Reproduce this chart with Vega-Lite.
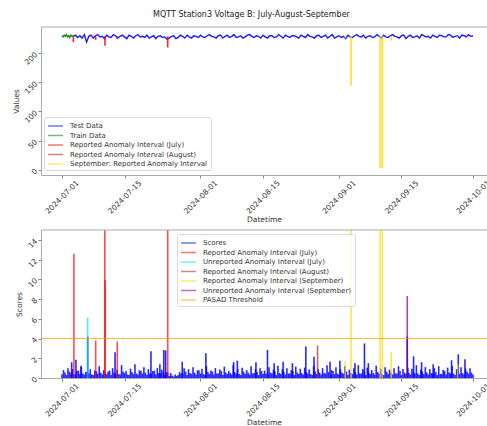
{
"$schema": "https://vega.github.io/schema/vega-lite/v6.json",
"padding": {"left": 12, "top": 10, "right": 0, "bottom": 2},
"title": {"text": "MQTT Station3 Voltage B: July-August-September", "anchor": "middle", "fontSize": 8, "font": "DejaVu Sans", "fontWeight": "normal", "color": "#222222", "offset": 8},
"config": {
 "font": "DejaVu Sans",
 "view": {"stroke": null},
 "axis": {"domainColor": "#aaaaaa", "domainWidth": 1, "tickColor": "#666666", "tickSize": 3, "tickWidth": 0.8, "labelFont": "DejaVu Sans", "labelFontSize": 7.5, "labelColor": "#333333", "titleFont": "DejaVu Sans", "titleFontSize": 7.5, "titleFontWeight": "normal", "titleColor": "#333333", "grid": false, "labelOverlap": false},
 "legend": {"labelFont": "DejaVu Sans", "labelFontSize": 7, "labelColor": "#333333", "symbolType": "M-1,0H2", "symbolStrokeWidth": 1.5, "symbolSize": 100, "symbolOpacity": 0.55, "fillColor": "rgba(255,255,255,0.85)", "strokeColor": "#d9d9d9", "cornerRadius": 2, "padding": 3, "rowPadding": 0.5, "labelOffset": 11}
},
"spacing": 55,
"bounds": "flush",
"resolve": {"scale": {"color": "independent", "x": "independent", "y": "independent"}, "legend": {"color": "independent"}},
"datasets": {
 "train": [
  {"t":"2024-07-01T00:00","v":230},{"t":"2024-07-01T06:00","v":228},{"t":"2024-07-01T12:00","v":231},{"t":"2024-07-01T18:00","v":229},
  {"t":"2024-07-02T00:00","v":232},{"t":"2024-07-02T06:00","v":228},{"t":"2024-07-02T12:00","v":230},{"t":"2024-07-02T18:00","v":227},
  {"t":"2024-07-03T00:00","v":231},{"t":"2024-07-03T06:00","v":229},{"t":"2024-07-03T12:00","v":230}
 ],
 "test": [
  {"t":"2024-07-03T12:00","v":229},
  {"t":"2024-07-04T00:00","v":231},{"t":"2024-07-04T12:00","v":227},
  {"t":"2024-07-05T00:00","v":230},{"t":"2024-07-05T12:00","v":226},
  {"t":"2024-07-06T00:00","v":232},{"t":"2024-07-06T12:00","v":219},
  {"t":"2024-07-07T00:00","v":229},{"t":"2024-07-07T12:00","v":231},
  {"t":"2024-07-08T00:00","v":226},{"t":"2024-07-08T12:00","v":230},
  {"t":"2024-07-09T00:00","v":232},{"t":"2024-07-09T12:00","v":228},
  {"t":"2024-07-10T00:00","v":229},{"t":"2024-07-10T12:00","v":225},
  {"t":"2024-07-11T00:00","v":231},{"t":"2024-07-11T12:00","v":228},
  {"t":"2024-07-12T00:00","v":227},{"t":"2024-07-12T12:00","v":232},
  {"t":"2024-07-13T00:00","v":230},{"t":"2024-07-13T12:00","v":226},
  {"t":"2024-07-14T00:00","v":229},{"t":"2024-07-14T12:00","v":231},
  {"t":"2024-07-15T00:00","v":228},{"t":"2024-07-15T12:00","v":225},
  {"t":"2024-07-16T00:00","v":231},{"t":"2024-07-16T12:00","v":229},
  {"t":"2024-07-17T00:00","v":226},{"t":"2024-07-17T12:00","v":230},
  {"t":"2024-07-18T00:00","v":232},{"t":"2024-07-18T12:00","v":228},
  {"t":"2024-07-19T00:00","v":229},{"t":"2024-07-19T12:00","v":227},
  {"t":"2024-07-20T00:00","v":231},{"t":"2024-07-20T12:00","v":226},
  {"t":"2024-07-21T00:00","v":228},{"t":"2024-07-21T12:00","v":230},
  {"t":"2024-07-22T00:00","v":225},{"t":"2024-07-22T12:00","v":229},
  {"t":"2024-07-23T00:00","v":230},{"t":"2024-07-23T12:00","v":227},
  {"t":"2024-07-24T00:00","v":228},{"t":"2024-07-24T12:00","v":224},
  {"t":"2024-07-25T00:00","v":226},{"t":"2024-07-25T12:00","v":229},
  {"t":"2024-07-26T00:00","v":230},{"t":"2024-07-26T12:00","v":225},
  {"t":"2024-07-27T00:00","v":227},{"t":"2024-07-27T12:00","v":231},
  {"t":"2024-07-28T00:00","v":229},{"t":"2024-07-28T12:00","v":226},
  {"t":"2024-07-29T00:00","v":231},{"t":"2024-07-29T12:00","v":228},
  {"t":"2024-07-30T00:00","v":226},{"t":"2024-07-30T12:00","v":230},
  {"t":"2024-07-31T00:00","v":229},{"t":"2024-07-31T12:00","v":227},
  {"t":"2024-08-01T00:00","v":231},{"t":"2024-08-01T12:00","v":228},
  {"t":"2024-08-02T00:00","v":227},{"t":"2024-08-02T12:00","v":230},
  {"t":"2024-08-03T00:00","v":232},{"t":"2024-08-03T12:00","v":229},
  {"t":"2024-08-04T00:00","v":228},{"t":"2024-08-04T12:00","v":226},
  {"t":"2024-08-05T00:00","v":230},{"t":"2024-08-05T12:00","v":231},
  {"t":"2024-08-06T00:00","v":226},{"t":"2024-08-06T12:00","v":229},
  {"t":"2024-08-07T00:00","v":231},{"t":"2024-08-07T12:00","v":227},
  {"t":"2024-08-08T00:00","v":229},{"t":"2024-08-08T12:00","v":232},
  {"t":"2024-08-09T00:00","v":227},{"t":"2024-08-09T12:00","v":228},
  {"t":"2024-08-10T00:00","v":230},{"t":"2024-08-10T12:00","v":226},
  {"t":"2024-08-11T00:00","v":228},{"t":"2024-08-11T12:00","v":231},
  {"t":"2024-08-12T00:00","v":232},{"t":"2024-08-12T12:00","v":229},
  {"t":"2024-08-13T00:00","v":227},{"t":"2024-08-13T12:00","v":230},
  {"t":"2024-08-14T00:00","v":229},{"t":"2024-08-14T12:00","v":226},
  {"t":"2024-08-15T00:00","v":231},{"t":"2024-08-15T12:00","v":228},
  {"t":"2024-08-16T00:00","v":226},{"t":"2024-08-16T12:00","v":230},
  {"t":"2024-08-17T00:00","v":230},{"t":"2024-08-17T12:00","v":227},
  {"t":"2024-08-18T00:00","v":228},{"t":"2024-08-18T12:00","v":232},
  {"t":"2024-08-19T00:00","v":229},{"t":"2024-08-19T12:00","v":226},
  {"t":"2024-08-20T00:00","v":231},{"t":"2024-08-20T12:00","v":229},
  {"t":"2024-08-21T00:00","v":227},{"t":"2024-08-21T12:00","v":230},
  {"t":"2024-08-22T00:00","v":230},{"t":"2024-08-22T12:00","v":228},
  {"t":"2024-08-23T00:00","v":226},{"t":"2024-08-23T12:00","v":231},
  {"t":"2024-08-24T00:00","v":229},{"t":"2024-08-24T12:00","v":227},
  {"t":"2024-08-25T00:00","v":232},{"t":"2024-08-25T12:00","v":229},
  {"t":"2024-08-26T00:00","v":228},{"t":"2024-08-26T12:00","v":226},
  {"t":"2024-08-27T00:00","v":230},{"t":"2024-08-27T12:00","v":231},
  {"t":"2024-08-28T00:00","v":227},{"t":"2024-08-28T12:00","v":229},
  {"t":"2024-08-29T00:00","v":231},{"t":"2024-08-29T12:00","v":226},
  {"t":"2024-08-30T00:00","v":229},{"t":"2024-08-30T12:00","v":232},
  {"t":"2024-08-31T00:00","v":226},{"t":"2024-08-31T12:00","v":228},
  {"t":"2024-09-01T00:00","v":230},{"t":"2024-09-01T12:00","v":227},
  {"t":"2024-09-02T00:00","v":229},{"t":"2024-09-02T12:00","v":225},
  {"t":"2024-09-03T00:00","v":231},{"t":"2024-09-03T12:00","v":228},
  {"t":"2024-09-04T00:00","v":227},{"t":"2024-09-04T12:00","v":230},
  {"t":"2024-09-05T00:00","v":232},{"t":"2024-09-05T12:00","v":229},
  {"t":"2024-09-06T00:00","v":228},{"t":"2024-09-06T12:00","v":231},
  {"t":"2024-09-07T00:00","v":226},{"t":"2024-09-07T12:00","v":229},
  {"t":"2024-09-08T00:00","v":230},{"t":"2024-09-08T12:00","v":227},
  {"t":"2024-09-09T00:00","v":228},{"t":"2024-09-09T12:00","v":232},
  {"t":"2024-09-10T00:00","v":229},{"t":"2024-09-10T12:00","v":226},
  {"t":"2024-09-11T00:00","v":231},{"t":"2024-09-11T12:00","v":228},
  {"t":"2024-09-12T00:00","v":227},{"t":"2024-09-12T12:00","v":230},
  {"t":"2024-09-13T00:00","v":232},{"t":"2024-09-13T12:00","v":229},
  {"t":"2024-09-14T00:00","v":228},{"t":"2024-09-14T12:00","v":226},
  {"t":"2024-09-15T00:00","v":230},{"t":"2024-09-15T12:00","v":231},
  {"t":"2024-09-16T00:00","v":225},{"t":"2024-09-16T12:00","v":229},
  {"t":"2024-09-17T00:00","v":231},{"t":"2024-09-17T12:00","v":227},
  {"t":"2024-09-18T00:00","v":228},{"t":"2024-09-18T12:00","v":230},
  {"t":"2024-09-19T00:00","v":226},{"t":"2024-09-19T12:00","v":232},
  {"t":"2024-09-20T00:00","v":230},{"t":"2024-09-20T12:00","v":228},
  {"t":"2024-09-21T00:00","v":229},{"t":"2024-09-21T12:00","v":226},
  {"t":"2024-09-22T00:00","v":231},{"t":"2024-09-22T12:00","v":229},
  {"t":"2024-09-23T00:00","v":227},{"t":"2024-09-23T12:00","v":231},
  {"t":"2024-09-24T00:00","v":230},{"t":"2024-09-24T12:00","v":228},
  {"t":"2024-09-25T00:00","v":228},{"t":"2024-09-25T12:00","v":232},
  {"t":"2024-09-26T00:00","v":231},{"t":"2024-09-26T12:00","v":227},
  {"t":"2024-09-27T00:00","v":229},{"t":"2024-09-27T12:00","v":230},
  {"t":"2024-09-28T00:00","v":226},{"t":"2024-09-28T12:00","v":231},
  {"t":"2024-09-29T00:00","v":230},{"t":"2024-09-29T12:00","v":228},
  {"t":"2024-09-30T00:00","v":232},{"t":"2024-09-30T12:00","v":229},
  {"t":"2024-10-01T00:00","v":230}
 ],
 "topAnom": [
  {"t":"2024-07-03T13:00","v":229,"v2":219,"s":"Reported Anomaly Interval (July)"},
  {"t":"2024-07-08T13:00","v":229,"v2":223,"s":"Reported Anomaly Interval (July)"},
  {"t":"2024-07-10T15:00","v":229,"v2":213,"s":"Reported Anomaly Interval (July)"},
  {"t":"2024-07-13T09:00","v":229,"v2":224.6,"s":"Reported Anomaly Interval (July)"},
  {"t":"2024-07-24T16:00","v":229,"v2":210,"s":"Reported Anomaly Interval (July)"},
  {"t":"2024-09-02T10:00","v":229,"v2":226,"s":"September: Reported Anomaly Interval"},
  {"t":"2024-09-03T17:00","v":229,"v2":144,"s":"September: Reported Anomaly Interval"},
  {"t":"2024-09-10T05:00","v":229,"v2":2.5,"s":"September: Reported Anomaly Interval"},
  {"t":"2024-09-10T17:00","v":229,"v2":2.5,"s":"September: Reported Anomaly Interval"},
  {"t":"2024-09-12T17:00","v":229,"v2":221.6,"s":"September: Reported Anomaly Interval"},
  {"t":"2024-09-27T11:00","v":229,"v2":226,"s":"September: Reported Anomaly Interval"}
 ],
 "scores": [
  {"t":"2024-07-01T00:00","v":0.35},{"t":"2024-07-01T08:00","v":0.8},{"t":"2024-07-01T16:00","v":0.55},
  {"t":"2024-07-02T00:00","v":0.3},{"t":"2024-07-02T08:00","v":1.0},{"t":"2024-07-02T16:00","v":0.65},
  {"t":"2024-07-03T00:00","v":0.45},{"t":"2024-07-03T04:00","v":1.6},{"t":"2024-07-03T08:00","v":0.9},{"t":"2024-07-03T16:00","v":0.4},
  {"t":"2024-07-04T00:00","v":0.35},{"t":"2024-07-04T03:00","v":1.85},{"t":"2024-07-04T08:00","v":0.7},{"t":"2024-07-04T16:00","v":0.75},
  {"t":"2024-07-05T00:00","v":0.4},{"t":"2024-07-05T06:00","v":1.25},{"t":"2024-07-05T08:00","v":1.1},{"t":"2024-07-05T16:00","v":0.45},
  {"t":"2024-07-06T00:00","v":0.35},{"t":"2024-07-06T08:00","v":0.6},{"t":"2024-07-06T16:00","v":0.6},{"t":"2024-07-06T18:00","v":4.2},
  {"t":"2024-07-07T00:00","v":0.45},{"t":"2024-07-07T08:00","v":0.9},{"t":"2024-07-07T16:00","v":0.35},
  {"t":"2024-07-08T00:00","v":0.3},{"t":"2024-07-08T08:00","v":0.75},{"t":"2024-07-08T16:00","v":0.7},
  {"t":"2024-07-09T00:00","v":0.45},{"t":"2024-07-09T08:00","v":1.2},{"t":"2024-07-09T16:00","v":0.55},
  {"t":"2024-07-10T00:00","v":0.35},{"t":"2024-07-10T08:00","v":0.8},{"t":"2024-07-10T16:00","v":0.5},
  {"t":"2024-07-11T00:00","v":0.4},{"t":"2024-07-11T08:00","v":0.65},{"t":"2024-07-11T16:00","v":0.75},
  {"t":"2024-07-12T00:00","v":0.3},{"t":"2024-07-12T08:00","v":1.0},{"t":"2024-07-12T16:00","v":0.55},{"t":"2024-07-12T21:00","v":2.6},
  {"t":"2024-07-13T00:00","v":0.45},{"t":"2024-07-13T08:00","v":0.85},{"t":"2024-07-13T16:00","v":0.4},
  {"t":"2024-07-14T00:00","v":0.35},{"t":"2024-07-14T08:00","v":1.3},{"t":"2024-07-14T16:00","v":0.65},
  {"t":"2024-07-15T00:00","v":0.5},{"t":"2024-07-15T08:00","v":0.7},{"t":"2024-07-15T16:00","v":0.35},
  {"t":"2024-07-16T00:00","v":0.3},{"t":"2024-07-16T08:00","v":0.95},{"t":"2024-07-16T16:00","v":0.6},
  {"t":"2024-07-17T00:00","v":0.4},{"t":"2024-07-17T08:00","v":1.4},{"t":"2024-07-17T16:00","v":0.45},
  {"t":"2024-07-18T00:00","v":0.35},{"t":"2024-07-18T08:00","v":0.8},{"t":"2024-07-18T16:00","v":0.7},
  {"t":"2024-07-19T00:00","v":0.45},{"t":"2024-07-19T08:00","v":1.1},{"t":"2024-07-19T16:00","v":0.55},
  {"t":"2024-07-20T00:00","v":0.3},{"t":"2024-07-20T08:00","v":0.9},{"t":"2024-07-20T16:00","v":0.45},{"t":"2024-07-20T22:00","v":2.7},
  {"t":"2024-07-21T00:00","v":0.4},{"t":"2024-07-21T08:00","v":0.7},{"t":"2024-07-21T16:00","v":0.75},
  {"t":"2024-07-22T00:00","v":0.35},{"t":"2024-07-22T08:00","v":1.0},{"t":"2024-07-22T16:00","v":0.5},{"t":"2024-07-22T22:00","v":1.4},
  {"t":"2024-07-23T00:00","v":0.45},{"t":"2024-07-23T08:00","v":0.85},{"t":"2024-07-23T16:00","v":0.6},{"t":"2024-07-23T19:00","v":2.85},
  {"t":"2024-07-24T00:00","v":0.3},{"t":"2024-07-24T05:00","v":2.8},{"t":"2024-07-24T08:00","v":0.6},{"t":"2024-07-24T16:00","v":0.55},
  {"t":"2024-07-25T00:00","v":0.2},{"t":"2024-07-25T08:00","v":0.5},{"t":"2024-07-25T16:00","v":0.25},
  {"t":"2024-07-26T00:00","v":0.15},{"t":"2024-07-26T08:00","v":0.35},{"t":"2024-07-26T16:00","v":0.2},
  {"t":"2024-07-27T00:00","v":0.3},{"t":"2024-07-27T08:00","v":0.6},{"t":"2024-07-27T16:00","v":0.45},{"t":"2024-07-27T22:00","v":1.65},
  {"t":"2024-07-28T00:00","v":0.45},{"t":"2024-07-28T08:00","v":1.0},{"t":"2024-07-28T16:00","v":0.65},
  {"t":"2024-07-29T00:00","v":0.3},{"t":"2024-07-29T08:00","v":0.9},{"t":"2024-07-29T16:00","v":0.5},
  {"t":"2024-07-30T00:00","v":0.4},{"t":"2024-07-30T08:00","v":1.1},{"t":"2024-07-30T16:00","v":0.55},
  {"t":"2024-07-31T00:00","v":0.35},{"t":"2024-07-31T08:00","v":0.8},{"t":"2024-07-31T16:00","v":0.75},
  {"t":"2024-08-01T00:00","v":0.45},{"t":"2024-08-01T08:00","v":0.95},{"t":"2024-08-01T16:00","v":0.4},
  {"t":"2024-08-02T00:00","v":0.3},{"t":"2024-08-02T05:00","v":2.5},{"t":"2024-08-02T08:00","v":1.2},{"t":"2024-08-02T16:00","v":0.6},
  {"t":"2024-08-03T00:00","v":0.4},{"t":"2024-08-03T08:00","v":0.75},{"t":"2024-08-03T16:00","v":0.65},
  {"t":"2024-08-04T00:00","v":0.35},{"t":"2024-08-04T08:00","v":1.0},{"t":"2024-08-04T16:00","v":0.45},
  {"t":"2024-08-05T00:00","v":0.45},{"t":"2024-08-05T08:00","v":0.85},{"t":"2024-08-05T16:00","v":0.7},
  {"t":"2024-08-06T00:00","v":0.3},{"t":"2024-08-06T08:00","v":1.15},{"t":"2024-08-06T16:00","v":0.55},
  {"t":"2024-08-07T00:00","v":0.4},{"t":"2024-08-07T08:00","v":0.7},{"t":"2024-08-07T16:00","v":0.5},
  {"t":"2024-08-08T00:00","v":0.35},{"t":"2024-08-08T08:00","v":1.3},{"t":"2024-08-08T10:00","v":1.6},{"t":"2024-08-08T16:00","v":0.6},
  {"t":"2024-08-09T00:00","v":0.45},{"t":"2024-08-09T06:00","v":1.75},{"t":"2024-08-09T08:00","v":0.9},{"t":"2024-08-09T16:00","v":0.4},
  {"t":"2024-08-10T00:00","v":0.3},{"t":"2024-08-10T08:00","v":1.05},{"t":"2024-08-10T16:00","v":0.65},
  {"t":"2024-08-11T00:00","v":0.4},{"t":"2024-08-11T08:00","v":0.8},{"t":"2024-08-11T16:00","v":0.55},
  {"t":"2024-08-12T00:00","v":0.35},{"t":"2024-08-12T08:00","v":1.2},{"t":"2024-08-12T16:00","v":0.45},
  {"t":"2024-08-13T00:00","v":0.5},{"t":"2024-08-13T08:00","v":0.9},{"t":"2024-08-13T10:00","v":1.6},{"t":"2024-08-13T16:00","v":0.6},
  {"t":"2024-08-14T00:00","v":0.3},{"t":"2024-08-14T08:00","v":1.0},{"t":"2024-08-14T16:00","v":0.7},
  {"t":"2024-08-15T00:00","v":0.4},{"t":"2024-08-15T08:00","v":0.75},{"t":"2024-08-15T16:00","v":0.45},
  {"t":"2024-08-16T00:00","v":2.85},{"t":"2024-08-16T04:00","v":0.35},{"t":"2024-08-16T08:00","v":1.1},{"t":"2024-08-16T16:00","v":0.55},
  {"t":"2024-08-17T00:00","v":0.45},{"t":"2024-08-17T08:00","v":0.85},{"t":"2024-08-17T12:00","v":1.5},{"t":"2024-08-17T16:00","v":0.65},
  {"t":"2024-08-18T00:00","v":0.3},{"t":"2024-08-18T08:00","v":1.25},{"t":"2024-08-18T16:00","v":0.5},
  {"t":"2024-08-19T00:00","v":0.4},{"t":"2024-08-19T08:00","v":0.9},{"t":"2024-08-19T12:00","v":1.65},{"t":"2024-08-19T16:00","v":0.6},
  {"t":"2024-08-20T00:00","v":0.35},{"t":"2024-08-20T08:00","v":1.0},{"t":"2024-08-20T16:00","v":0.45},
  {"t":"2024-08-21T00:00","v":0.45},{"t":"2024-08-21T08:00","v":0.8},{"t":"2024-08-21T14:00","v":1.5},{"t":"2024-08-21T16:00","v":0.7},
  {"t":"2024-08-22T00:00","v":0.3},{"t":"2024-08-22T08:00","v":1.15},{"t":"2024-08-22T16:00","v":0.55},
  {"t":"2024-08-23T00:00","v":0.4},{"t":"2024-08-23T08:00","v":0.95},{"t":"2024-08-23T16:00","v":0.5},
  {"t":"2024-08-24T00:00","v":0.35},{"t":"2024-08-24T08:00","v":1.05},{"t":"2024-08-24T14:00","v":3.2},{"t":"2024-08-24T16:00","v":0.6},
  {"t":"2024-08-25T00:00","v":0.45},{"t":"2024-08-25T08:00","v":0.85},{"t":"2024-08-25T16:00","v":0.4},
  {"t":"2024-08-26T00:00","v":0.3},{"t":"2024-08-26T08:00","v":1.2},{"t":"2024-08-26T10:00","v":2.15},{"t":"2024-08-26T16:00","v":0.65},
  {"t":"2024-08-27T00:00","v":0.4},{"t":"2024-08-27T08:00","v":0.9},{"t":"2024-08-27T16:00","v":0.55},
  {"t":"2024-08-28T00:00","v":0.35},{"t":"2024-08-28T08:00","v":1.0},{"t":"2024-08-28T16:00","v":0.5},
  {"t":"2024-08-29T00:00","v":0.45},{"t":"2024-08-29T08:00","v":1.3},{"t":"2024-08-29T16:00","v":0.6},
  {"t":"2024-08-30T00:00","v":1.65},{"t":"2024-08-30T04:00","v":0.3},{"t":"2024-08-30T08:00","v":0.8},{"t":"2024-08-30T16:00","v":0.7},
  {"t":"2024-08-31T00:00","v":0.4},{"t":"2024-08-31T08:00","v":1.1},{"t":"2024-08-31T16:00","v":0.45},
  {"t":"2024-09-01T00:00","v":0.35},{"t":"2024-09-01T05:00","v":1.75},{"t":"2024-09-01T08:00","v":0.9},{"t":"2024-09-01T16:00","v":0.55},
  {"t":"2024-09-02T00:00","v":0.45},{"t":"2024-09-02T08:00","v":1.2},{"t":"2024-09-02T16:00","v":0.65},
  {"t":"2024-09-03T00:00","v":0.3},{"t":"2024-09-03T08:00","v":0.85},{"t":"2024-09-03T16:00","v":0.5},
  {"t":"2024-09-04T00:00","v":0.4},{"t":"2024-09-04T08:00","v":1.0},{"t":"2024-09-04T14:00","v":1.5},{"t":"2024-09-04T16:00","v":0.6},
  {"t":"2024-09-05T00:00","v":0.35},{"t":"2024-09-05T08:00","v":1.3},{"t":"2024-09-05T16:00","v":0.45},
  {"t":"2024-09-06T00:00","v":0.45},{"t":"2024-09-06T08:00","v":0.9},{"t":"2024-09-06T16:00","v":0.7},{"t":"2024-09-06T17:00","v":3.5},
  {"t":"2024-09-07T00:00","v":0.3},{"t":"2024-09-07T08:00","v":1.05},{"t":"2024-09-07T14:00","v":1.5},{"t":"2024-09-07T16:00","v":0.55},
  {"t":"2024-09-08T00:00","v":0.4},{"t":"2024-09-08T08:00","v":0.8},{"t":"2024-09-08T16:00","v":0.5},
  {"t":"2024-09-09T00:00","v":0.35},{"t":"2024-09-09T08:00","v":1.25},{"t":"2024-09-09T16:00","v":0.6},
  {"t":"2024-09-10T00:00","v":0.45},{"t":"2024-09-10T08:00","v":0.95},{"t":"2024-09-10T16:00","v":0.4},
  {"t":"2024-09-11T00:00","v":0.3},{"t":"2024-09-11T08:00","v":1.1},{"t":"2024-09-11T16:00","v":0.65},
  {"t":"2024-09-12T00:00","v":0.4},{"t":"2024-09-12T08:00","v":0.85},{"t":"2024-09-12T16:00","v":0.55},
  {"t":"2024-09-13T00:00","v":0.35},{"t":"2024-09-13T08:00","v":1.0},{"t":"2024-09-13T16:00","v":0.45},
  {"t":"2024-09-14T00:00","v":0.45},{"t":"2024-09-14T08:00","v":1.2},{"t":"2024-09-14T16:00","v":0.7},
  {"t":"2024-09-15T00:00","v":0.3},{"t":"2024-09-15T08:00","v":0.9},{"t":"2024-09-15T16:00","v":0.55},
  {"t":"2024-09-16T00:00","v":0.4},{"t":"2024-09-16T07:00","v":4.2},{"t":"2024-09-16T10:00","v":1.05},{"t":"2024-09-16T16:00","v":0.5},
  {"t":"2024-09-17T00:00","v":0.35},{"t":"2024-09-17T08:00","v":0.95},{"t":"2024-09-17T16:00","v":0.6},{"t":"2024-09-17T17:00","v":2.2},
  {"t":"2024-09-18T00:00","v":0.45},{"t":"2024-09-18T08:00","v":1.3},{"t":"2024-09-18T16:00","v":0.45},
  {"t":"2024-09-19T00:00","v":0.3},{"t":"2024-09-19T08:00","v":0.85},{"t":"2024-09-19T12:00","v":1.6},{"t":"2024-09-19T16:00","v":0.65},
  {"t":"2024-09-20T00:00","v":0.4},{"t":"2024-09-20T08:00","v":1.1},{"t":"2024-09-20T16:00","v":0.55},
  {"t":"2024-09-21T00:00","v":0.35},{"t":"2024-09-21T08:00","v":0.9},{"t":"2024-09-21T16:00","v":0.5},
  {"t":"2024-09-22T00:00","v":0.45},{"t":"2024-09-22T02:00","v":1.4},{"t":"2024-09-22T08:00","v":1.0},{"t":"2024-09-22T16:00","v":0.6},
  {"t":"2024-09-23T00:00","v":0.3},{"t":"2024-09-23T08:00","v":1.2},{"t":"2024-09-23T16:00","v":0.4},
  {"t":"2024-09-24T00:00","v":0.4},{"t":"2024-09-24T08:00","v":0.8},{"t":"2024-09-24T16:00","v":0.7},
  {"t":"2024-09-25T00:00","v":0.35},{"t":"2024-09-25T08:00","v":1.05},{"t":"2024-09-25T16:00","v":0.55},
  {"t":"2024-09-26T00:00","v":0.45},{"t":"2024-09-26T05:00","v":1.8},{"t":"2024-09-26T08:00","v":1.25},{"t":"2024-09-26T16:00","v":0.45},
  {"t":"2024-09-27T00:00","v":0.3},{"t":"2024-09-27T08:00","v":0.9},{"t":"2024-09-27T16:00","v":0.6},{"t":"2024-09-27T17:00","v":2.4},
  {"t":"2024-09-28T00:00","v":0.4},{"t":"2024-09-28T08:00","v":1.1},{"t":"2024-09-28T16:00","v":0.5},
  {"t":"2024-09-29T00:00","v":0.35},{"t":"2024-09-29T05:00","v":1.9},{"t":"2024-09-29T08:00","v":0.95},{"t":"2024-09-29T16:00","v":0.65},
  {"t":"2024-09-30T00:00","v":0.45},{"t":"2024-09-30T08:00","v":1.0},{"t":"2024-09-30T16:00","v":0.55},
  {"t":"2024-10-01T00:00","v":0.35}
 ],
 "botAnom": [
  {"t":"2024-07-03T16:00","v":12.6,"s":"Reported Anomaly Interval (July)"},
  {"t":"2024-07-08T13:00","v":3.8,"s":"Reported Anomaly Interval (July)"},
  {"t":"2024-07-10T14:00","v":20,"s":"Reported Anomaly Interval (July)"},
  {"t":"2024-07-10T16:00","v":9.9,"s":"Reported Anomaly Interval (July)"},
  {"t":"2024-07-13T09:00","v":3.7,"s":"Reported Anomaly Interval (July)"},
  {"t":"2024-07-24T16:00","v":20,"s":"Reported Anomaly Interval (July)"},
  {"t":"2024-07-06T18:00","v":6.1,"s":"Unreported Anomaly Interval (July)"},
  {"t":"2024-08-27T05:00","v":3.3,"s":"Reported Anomaly Interval (August)"},
  {"t":"2024-09-02T10:00","v":1.7,"s":"Reported Anomaly Interval (September)"},
  {"t":"2024-09-03T17:00","v":20,"s":"Reported Anomaly Interval (September)"},
  {"t":"2024-09-10T05:00","v":20,"s":"Reported Anomaly Interval (September)"},
  {"t":"2024-09-10T17:00","v":20,"s":"Reported Anomaly Interval (September)"},
  {"t":"2024-09-12T17:00","v":2.6,"s":"Reported Anomaly Interval (September)"},
  {"t":"2024-09-27T14:00","v":1.4,"s":"Reported Anomaly Interval (September)"},
  {"t":"2024-09-16T07:00","v":8.3,"s":"Unreported Anomaly Interval (September)"}
 ],
 "thr": [{"v":4,"s":"PASAD Threshold"}]
},
"vconcat": [
 {
  "width": 446, "height": 148,
  "layer": [
   {
    "data": {"name": "test"},
    "mark": {"type": "line", "strokeWidth": 1.4, "opacity": 0.9, "clip": true},
    "encoding": {
     "x": {"field": "t", "type": "temporal", "title": "Datetime",
       "scale": {"domain": [{"year":2024,"month":6,"date":26,"hours":7,"minutes":12},{"year":2024,"month":10,"date":4,"hours":3,"minutes":22}]},
       "axis": {"values": [{"year":2024,"month":7,"date":1},{"year":2024,"month":7,"date":15},{"year":2024,"month":8,"date":1},{"year":2024,"month":8,"date":15},{"year":2024,"month":9,"date":1},{"year":2024,"month":9,"date":15},{"year":2024,"month":10,"date":1}],
         "format": "%Y-%m-%d", "labelAngle": 315, "labelAlign": "center", "labelBaseline": "middle", "labelPadding": 19, "labelFlush": false, "labelOverlap": false, "titlePadding": 1}},
     "y": {"field": "v", "type": "quantitative", "title": "Values",
       "scale": {"domain": [-9, 245], "nice": false, "zero": false},
       "axis": {"values": [0, 50, 100, 150, 200], "labelAngle": 315, "labelAlign": "right", "labelBaseline": "middle", "labelPadding": 2, "labelOverlap": false, "titlePadding": 3}},
     "color": {"datum": "Test Data", "type": "nominal", "title": null,
       "scale": {"domain": ["Test Data", "Train Data", "Reported Anomaly Interval (July)", "Reported Anomaly Interval (August)", "September: Reported Anomaly Interval"], "range": ["#0000ff", "#008000", "#ff0000", "#a52a2a", "#ffd700"]},
       "legend": {"title": null, "orient": "none", "legendX": 3, "legendY": 90, "symbolOpacity": 0.55}}
    }
   },
   {
    "data": {"name": "train"},
    "mark": {"type": "line", "strokeWidth": 1.4, "opacity": 0.9, "clip": true},
    "encoding": {
     "x": {"field": "t", "type": "temporal"},
     "y": {"field": "v", "type": "quantitative", "axis": {"values": [0, 50, 100, 150, 200], "labelAngle": 315, "labelAlign": "right", "labelBaseline": "middle", "labelPadding": 2, "labelOverlap": false, "titlePadding": 3}},
     "color": {"datum": "Train Data", "type": "nominal", "title": null}
    }
   },
   {
    "data": {"name": "topAnom"},
    "mark": {"type": "rule", "strokeWidth": 1.6, "opacity": 0.85, "clip": true},
    "encoding": {
     "x": {"field": "t", "type": "temporal"},
     "y": {"field": "v", "type": "quantitative", "axis": {"values": [0, 50, 100, 150, 200], "labelAngle": 315, "labelAlign": "right", "labelBaseline": "middle", "labelPadding": 2, "labelOverlap": false, "titlePadding": 3}},
     "y2": {"field": "v2"},
     "color": {"field": "s", "type": "nominal", "title": null}
    }
   },
   {
    "data": {"values": [{}]},
    "mark": {"type": "rule", "color": "#aaaaaa", "strokeWidth": 1},
    "encoding": {"y": {"datum": 245, "type": "quantitative", "title": "Values", "axis": {"values": [0, 50, 100, 150, 200], "labelAngle": 315, "labelAlign": "right", "labelBaseline": "middle", "labelPadding": 2, "labelOverlap": false, "titlePadding": 3}}}
   }
  ]
 },
 {
  "width": 446, "height": 148,
  "layer": [
   {
    "data": {"name": "scores"},
    "mark": {"type": "rule", "strokeWidth": 1.6, "opacity": 0.85, "clip": true},
    "encoding": {
     "x": {"field": "t", "type": "temporal", "title": "Datetime",
       "scale": {"domain": [{"year":2024,"month":6,"date":26,"hours":7,"minutes":12},{"year":2024,"month":10,"date":4,"hours":3,"minutes":22}]},
       "axis": {"values": [{"year":2024,"month":7,"date":1},{"year":2024,"month":7,"date":15},{"year":2024,"month":8,"date":1},{"year":2024,"month":8,"date":15},{"year":2024,"month":9,"date":1},{"year":2024,"month":9,"date":15},{"year":2024,"month":10,"date":1}],
         "format": "%Y-%m-%d", "labelAngle": 315, "labelAlign": "center", "labelBaseline": "middle", "labelPadding": 19, "labelFlush": false, "labelOverlap": false, "titlePadding": 1}},
     "y": {"field": "v", "type": "quantitative", "title": "Scores",
       "scale": {"domain": [0, 15], "nice": false, "zero": false},
       "axis": {"values": [0, 2, 4, 6, 8, 10, 12, 14], "labelAngle": 315, "labelAlign": "right", "labelBaseline": "middle", "labelPadding": 2, "labelOverlap": false, "titlePadding": 3}},
     "y2": {"datum": 0},
     "color": {"datum": "Scores", "type": "nominal", "title": null,
       "scale": {"domain": ["Scores", "Reported Anomaly Interval (July)", "Unreported Anomaly Interval (July)", "Reported Anomaly Interval (August)", "Reported Anomaly Interval (September)", "Unreported Anomaly Interval (September)", "PASAD Threshold"], "range": ["#0000ff", "#ff0000", "#00e5ff", "#a52a2a", "#ffd700", "#800080", "#ffa500"]},
       "legend": {"title": null, "orient": "none", "legendX": 136, "legendY": 4, "symbolOpacity": 0.55}}
    }
   },
   {
    "data": {"name": "botAnom"},
    "mark": {"type": "rule", "strokeWidth": 1.6, "opacity": 0.7, "clip": true},
    "encoding": {
     "x": {"field": "t", "type": "temporal"},
     "y": {"field": "v", "type": "quantitative", "axis": {"values": [0, 2, 4, 6, 8, 10, 12, 14], "labelAngle": 315, "labelAlign": "right", "labelBaseline": "middle", "labelPadding": 2, "labelOverlap": false, "titlePadding": 3}},
     "y2": {"datum": 0},
     "color": {"field": "s", "type": "nominal", "title": null}
    }
   },
   {
    "data": {"name": "thr"},
    "mark": {"type": "rule", "strokeWidth": 1, "opacity": 0.8},
    "encoding": {
     "y": {"field": "v", "type": "quantitative", "axis": {"values": [0, 2, 4, 6, 8, 10, 12, 14], "labelAngle": 315, "labelAlign": "right", "labelBaseline": "middle", "labelPadding": 2, "labelOverlap": false, "titlePadding": 3}},
     "color": {"field": "s", "type": "nominal", "title": null}
    }
   },
   {
    "data": {"values": [{}]},
    "mark": {"type": "rule", "color": "#aaaaaa", "strokeWidth": 1},
    "encoding": {"y": {"datum": 15, "type": "quantitative", "title": "Scores", "axis": {"values": [0, 2, 4, 6, 8, 10, 12, 14], "labelAngle": 315, "labelAlign": "right", "labelBaseline": "middle", "labelPadding": 2, "labelOverlap": false, "titlePadding": 3}}}
   }
  ]
 }
]
}
